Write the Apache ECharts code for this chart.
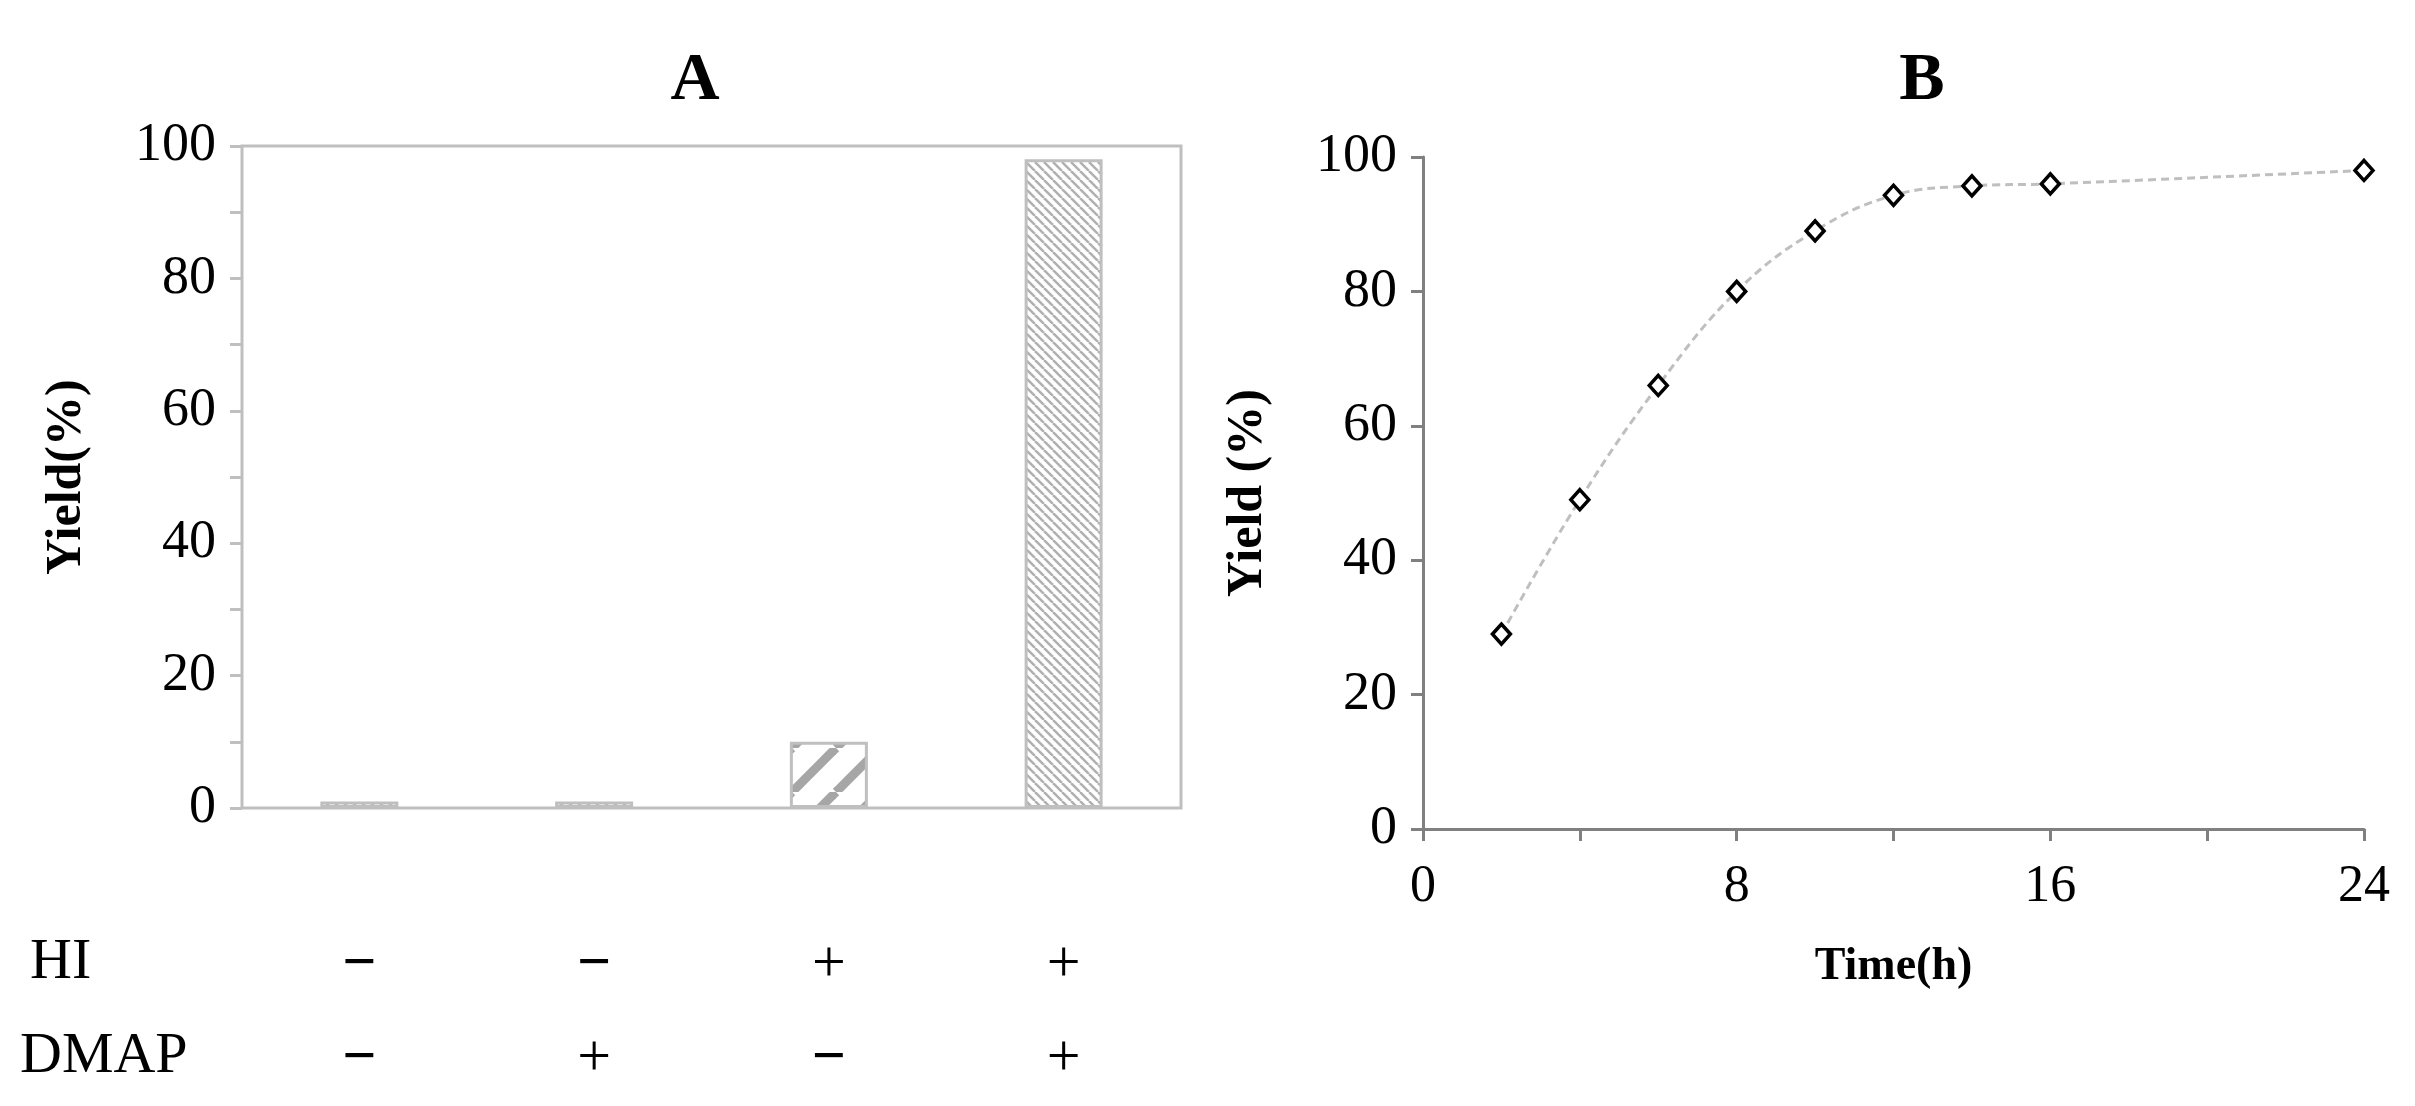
<!DOCTYPE html>
<html>
<head>
<meta charset="utf-8">
<script src="https://cdn.jsdelivr.net/npm/echarts@6/dist/echarts.min.js"></script>
<style>html,body{margin:0;background:#fff}#c{width:2415px;height:1106px}</style>
</head>
<body>
<div id="c"></div>
<script>
// panel A
var conditions = ['1', '2', '3', '4']
var hiSigns = ['−', '−', '+', '+']
var dmapSigns = ['−', '+', '−', '+']
var yieldA = [1, 1, 10, 98]
// panel B
var timeH = [2, 4, 6, 8, 10, 12, 14, 16, 24]
var yieldB = [29, 49, 66, 80, 89, 94.3, 95.7, 96, 98]

var FONT = 'Liberation Serif'

function stripes(size, width, color, back) {
  var c = document.createElement('canvas')
  c.width = size; c.height = size
  var g = c.getContext('2d')
  g.fillStyle = '#fff'; g.fillRect(0, 0, size, size)
  g.strokeStyle = color; g.lineWidth = width
  for (var k = -1; k <= 1; k++) {
    g.beginPath()
    if (back) { g.moveTo(k * size, 0); g.lineTo(k * size + size, size) }
    else { g.moveTo(k * size, size); g.lineTo(k * size + size, 0) }
    g.stroke()
  }
  return c
}
var dense = stripes(9, 2.5, '#b0b0b0', true)
var wide = stripes(44, 9, '#a6a6a6', false)

var barData = yieldA.map(function (v, i) {
  var img = i === 2 ? wide : dense
  return { value: v, itemStyle: { color: { image: img, repeat: 'repeat' } } }
})

function sign(s) { return s === '−' ? '{m|−}' : '{p|+}' }

var chart = echarts.init(document.getElementById('c'))
chart.setOption({
  backgroundColor: '#fff',
  animation: false,
  textStyle: { fontFamily: FONT },
  title: [
    { text: 'A', left: 690, top: 42, textAlign: 'center', textStyle: { fontFamily: FONT, fontSize: 68, fontWeight: 'bold', color: '#000' } },
    { text: 'B', left: 1917, top: 42, textAlign: 'center', textStyle: { fontFamily: FONT, fontSize: 68, fontWeight: 'bold', color: '#000' } }
  ],
  grid: [
    { left: 242, top: 146, width: 939, height: 683, show: true, borderColor: '#bfbfbf', borderWidth: 3, backgroundColor: 'transparent' },
    { left: 1423, top: 157, width: 941, height: 672 }
  ],
  xAxis: [
    {
      gridIndex: 0, type: 'category', data: conditions,
      axisLine: { show: false }, axisTick: { show: false },
      axisLabel: {
        margin: 110, color: '#000', lineHeight: 94, fontFamily: FONT,
        formatter: function (v, i) { return sign(hiSigns[i]) + '\n' + sign(dmapSigns[i]) },
        rich: {
          m: { fontSize: 60, fontWeight: 'bold', fontFamily: FONT, color: '#000', lineHeight: 94 },
          p: { fontSize: 60, fontFamily: FONT, color: '#000', lineHeight: 94 }
        }
      }
    },
    {
      gridIndex: 1, type: 'value', min: 0, max: 24, interval: 4,
      axisLine: { lineStyle: { color: '#808080', width: 3 } },
      axisTick: { length: 12, lineStyle: { color: '#808080', width: 3 } },
      axisLabel: { fontSize: 52, color: '#000', margin: 32, fontFamily: FONT, formatter: function (v) { return v % 8 === 0 ? v : '' } },
      splitLine: { show: false },
      name: 'Time(h)', nameLocation: 'middle', nameGap: 115,
      nameTextStyle: { fontSize: 46, fontWeight: 'bold', color: '#000', fontFamily: FONT }
    }
  ],
  yAxis: [
    {
      gridIndex: 0, type: 'value', min: 0, max: 100, interval: 10,
      axisLine: { show: false },
      axisTick: { show: true, length: 12, lineStyle: { color: '#bfbfbf', width: 3 } },
      axisLabel: { fontSize: 54, color: '#000', margin: 26, fontFamily: FONT, formatter: function (v) { return v % 20 === 0 ? v : '' } },
      splitLine: { show: false },
      name: 'Yield(%)', nameLocation: 'middle', nameGap: 150, nameRotate: 90,
      nameTextStyle: { fontSize: 50, fontWeight: 'bold', color: '#000', fontFamily: FONT }
    },
    {
      gridIndex: 1, type: 'value', min: 0, max: 100, interval: 20,
      axisLine: { show: true, lineStyle: { color: '#808080', width: 3 } },
      axisTick: { show: true, length: 12, inside: false, lineStyle: { color: '#808080', width: 3 } },
      axisLabel: { fontSize: 54, color: '#000', margin: 26, fontFamily: FONT },
      splitLine: { show: false },
      name: 'Yield (%)', nameLocation: 'middle', nameGap: 150, nameRotate: 90,
      nameTextStyle: { fontSize: 50, fontWeight: 'bold', color: '#000', fontFamily: FONT }
    }
  ],
  series: [
    {
      type: 'bar', xAxisIndex: 0, yAxisIndex: 0, data: barData, barWidth: 78,
      itemStyle: { borderColor: '#bfbfbf', borderWidth: 3 }
    },
    {
      type: 'line', xAxisIndex: 1, yAxisIndex: 1, smooth: 0.4,
      data: timeH.map(function (t, i) { return [t, yieldB[i]] }),
      lineStyle: { color: '#bfbfbf', width: 3, type: [8, 5] },
      symbol: 'diamond', symbolSize: [18, 20],
      itemStyle: { color: '#fff', borderColor: '#000', borderWidth: 3.5 }
    }
  ],
  graphic: [
    { type: 'text', left: 30, top: 934, style: { text: 'HI', fontSize: 58, fontFamily: FONT, fill: '#000' } },
    { type: 'text', left: 20, top: 1028, style: { text: 'DMAP', fontSize: 58, fontFamily: FONT, fill: '#000' } }
  ]
})
</script>
</body>
</html>
